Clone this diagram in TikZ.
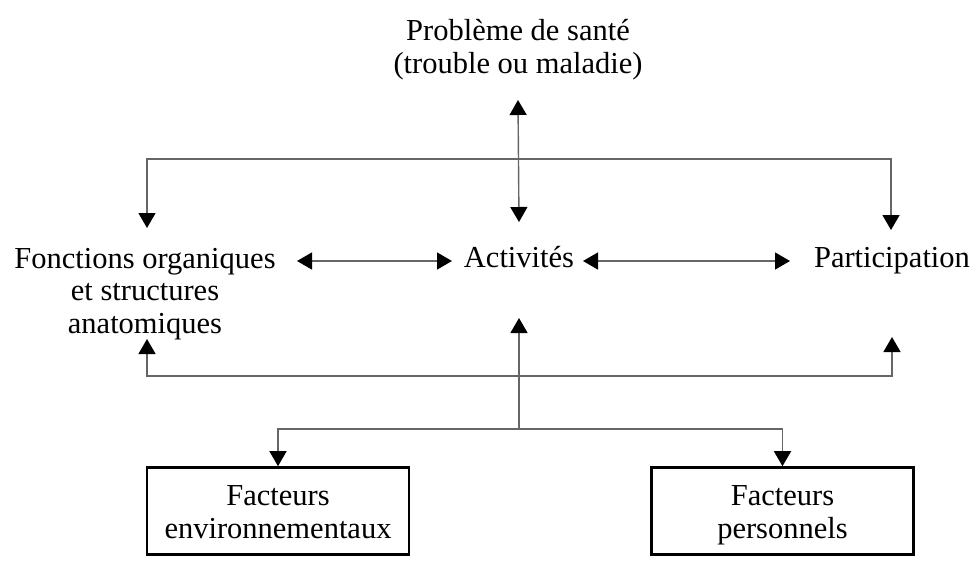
\documentclass[tikz,border=0pt]{standalone}
\usepackage{fontspec}
\setmainfont{Liberation Serif}
\usetikzlibrary{arrows.meta}
\newcommand{\topstrut}{\rule{0pt}{27.6pt}}
\newcommand{\botstrut}{\rule[-6.6pt]{0pt}{0pt}}
\begin{document}
\begin{tikzpicture}[x=1pt,y=-1pt,
  txt/.style={font=\fontsize{30.5}{32.5}\selectfont, align=center, inner sep=0pt, anchor=base},
  factbox/.style={draw=black, line width=2.6pt, inner sep=0pt, align=center,
    font=\fontsize{30.5}{33}\selectfont, minimum height=87pt, minimum width=262pt},
  conn/.style={draw=black!60, line width=1.4pt},
  tipend/.style={-{Triangle[width=17pt,length=15pt,color=black]}},
  tipboth/.style={{Triangle[width=17pt,length=15pt,color=black]}-{Triangle[width=17pt,length=15pt,color=black]}}
]
\useasboundingbox (0,0) rectangle (975,563);

% nodes (base anchor = baseline of last line)
\node[txt] (top) at (518,73) {Problème de santé\\(trouble ou maladie)};
\node[txt] (fo)  at (145,333) {Fonctions organiques\\et structures\\anatomiques};
\node[txt] (act) at (519,267) {Activités};
\node[txt] (par) at (892,267) {Participation};
\node[factbox] (fe) at (278,511) {\topstrut Facteurs\\environnementaux\botstrut};
\node[factbox] (fp) at (782.5,511) {\topstrut Facteurs\\personnels\botstrut};

% junction coordinates
\coordinate (tl) at (147,159);
\coordinate (tr) at (891,159);
\coordinate (bl) at (147,376);
\coordinate (br) at (892,376);
\coordinate (mid) at (519,429);
\coordinate (el) at (fe.north |- mid);
\coordinate (er) at (fp.north |- mid);

% top <-> activites
\draw[conn,tipboth] (top.south |- 0,100) -- (act.north |- 0,222);
% upper bracket
\draw[conn,tipboth] (tl |- 0,228) -- (tl) -- (tr) -- (tr |- 0,230);
% horizontal double arrows
\draw[conn,tipboth] (297,261) -- (452,261);
\draw[conn,tipboth] (583,261) -- (790,261);
% lower bracket
\draw[conn,tipboth] (bl |- 0,339) -- (bl) -- (br) -- (br |- 0,337);
% up arrow to activites
\draw[conn,tipend] (mid) -- (act.south |- 0,318);
% branch to factor boxes
\draw[conn,tipboth] (fe.north) -- (el) -- (er) -- (fp.north);
\end{tikzpicture}
\end{document}
